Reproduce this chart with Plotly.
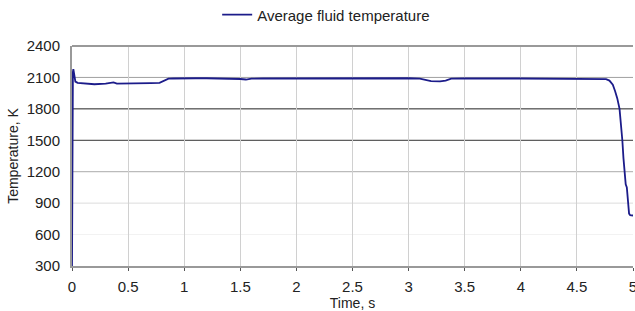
import plotly.graph_objects as go

time_s = [0, 0.003, 0.008, 0.012, 0.02, 0.03, 0.05, 0.08, 0.12, 0.15, 0.2, 0.3, 0.35, 0.37,
          0.4, 0.5, 0.6, 0.7, 0.78, 0.82, 0.86, 0.9, 1.0, 1.05, 1.1, 1.2, 1.4, 1.5, 1.55,
          1.6, 1.7, 2.0, 2.5, 3.0, 3.1, 3.15, 3.2, 3.28, 3.33, 3.38, 3.5, 4.0, 4.5, 4.7,
          4.76, 4.79, 4.82, 4.84, 4.86, 4.88, 4.895, 4.905, 4.915, 4.925, 4.935, 4.945,
          4.955, 4.965, 4.975, 5.0]
temperature_k = [300, 1400, 2150, 2180, 2120, 2060, 2048, 2045, 2040, 2035, 2035, 2040, 2045,
                 2052, 2040, 2040, 2042, 2045, 2048, 2065, 2088, 2090, 2092, 2098, 2092, 2092,
                 2090, 2085, 2080, 2088, 2090, 2092, 2092, 2092, 2088, 2075, 2065, 2063, 2070,
                 2088, 2090, 2090, 2088, 2085, 2083, 2070, 2030, 1970, 1900, 1800, 1650, 1500,
                 1330, 1150, 1080, 1050, 900, 800, 785, 782]

y_ticks = [300, 600, 900, 1200, 1500, 1800, 2100, 2400]
x_ticks = [0, 0.5, 1, 1.5, 2, 2.5, 3, 3.5, 4, 4.5, 5]
grid_values = [600, 900, 1200, 1500, 1800, 2100]

FONT = "Liberation Sans, Arial, sans-serif"
FS = 15
GRID_COLORS = ["#f2f2f2", "#dcdcdc", "#aaaaaa", "#333333", "#222222", "#a0a0a0"]

fig = go.Figure()
fig.add_trace(go.Scatter(
    x=time_s, y=temperature_k, mode="lines",
    name="Average fluid temperature",
    line=dict(color="#1c1c8a", width=1.8),
))

for v, c in zip(grid_values, GRID_COLORS):
    fig.add_shape(type="line", xref="paper", x0=0, x1=1, yref="y", y0=v, y1=v,
                  line=dict(color=c, width=1), layer="below")

fig.update_layout(
    width=635, height=311,
    margin=dict(l=72, r=2, t=46, b=45, autoexpand=False),
    paper_bgcolor="white", plot_bgcolor="white",
    font=dict(family=FONT, size=FS, color="#222222"),
    showlegend=True,
    legend=dict(orientation="h", x=0.342, xanchor="left", xref="container",
                y=0.952, yanchor="middle", yref="container",
                font=dict(size=FS), itemwidth=30, bgcolor="rgba(0,0,0,0)"),
    xaxis=dict(range=[0, 5], tickvals=x_ticks, ticktext=[f"{t:g}" for t in x_ticks],
               showgrid=True, gridcolor="#d0d0d0", gridwidth=1,
               showline=True, linecolor="#999999", linewidth=2, mirror=False,
               ticks="outside", ticklen=3, tickcolor="#555555",
               ticklabelstandoff=3, automargin=False, ticklabeloverflow="allow",
               zeroline=False,
               title=dict(text="Time, s", font=dict(size=14), standoff=3)),
    yaxis=dict(range=[300, 2400], tickvals=y_ticks,
               showgrid=False,
               showline=True, linecolor="#999999", linewidth=2, mirror=False,
               ticks="", zeroline=False, automargin=False,
               ticklabelstandoff=7,
               title=dict(text="Temperature, K", font=dict(size=14), standoff=5)),
)
# top border
fig.add_shape(type="line", xref="paper", yref="paper", x0=0, x1=1, y0=1, y1=1,
              line=dict(color="#999999", width=2))

fig.write_html("out.html", config={"displayModeBar": False},
               post_script="document.body.style.margin='0';document.body.style.padding='0';")
